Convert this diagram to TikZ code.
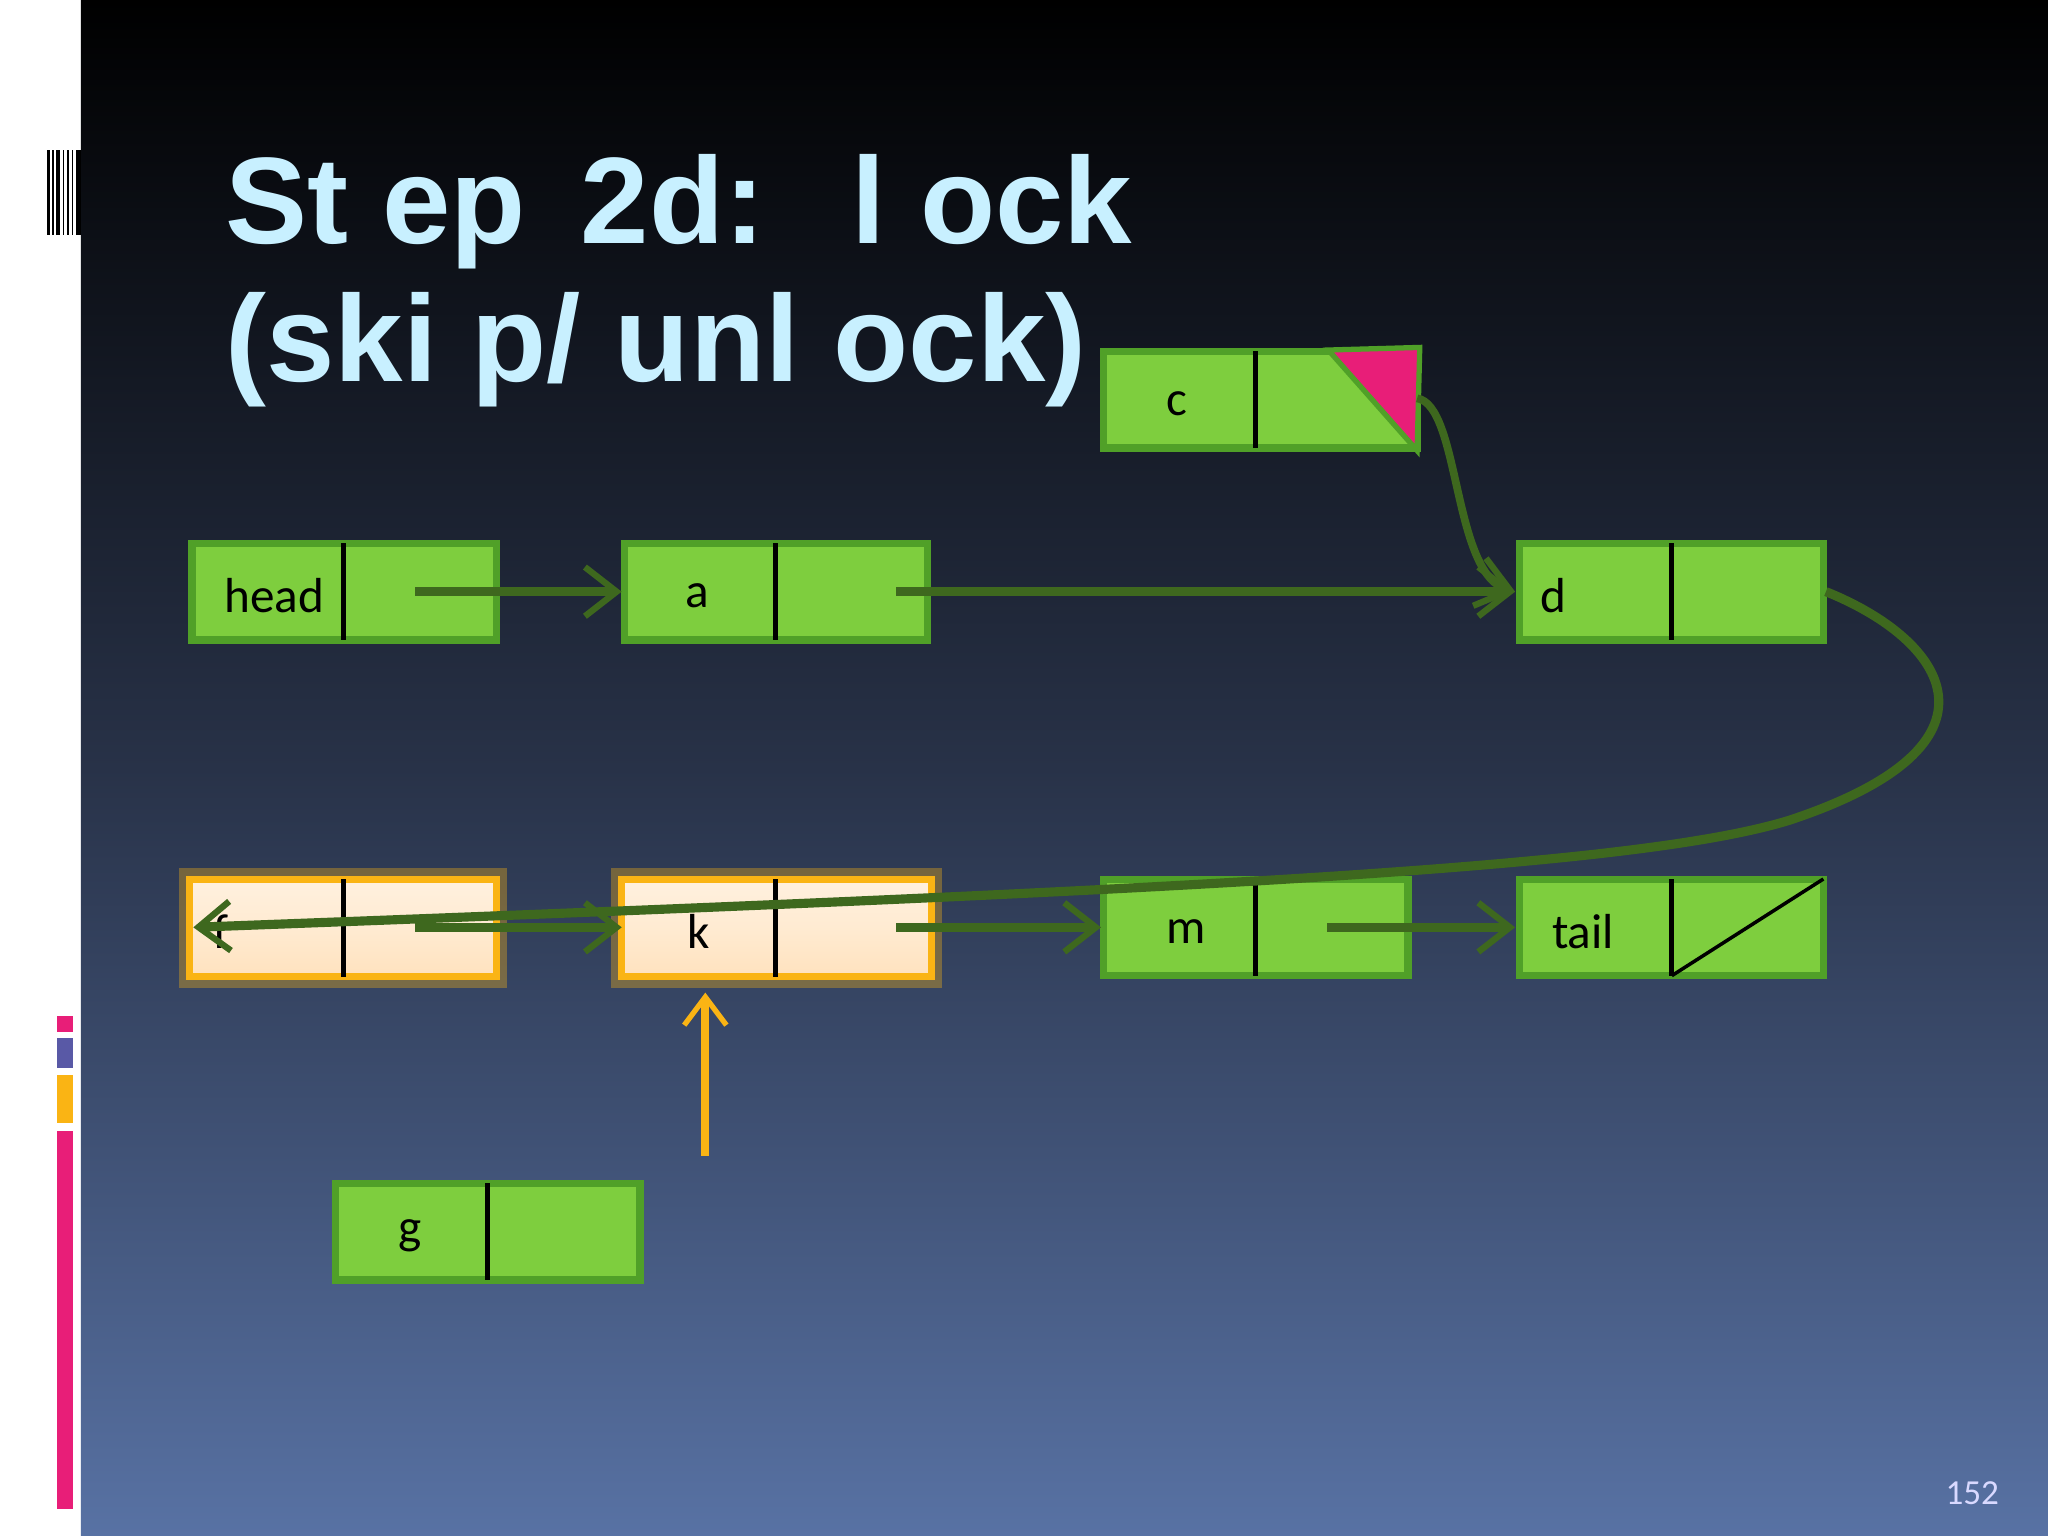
\documentclass[tikz,border=0pt]{standalone}
\usepackage{fontspec}
\setmainfont{Carlito}
\newfontfamily\titlefont{Liberation Sans}
\usetikzlibrary{arrows.meta}
\definecolor{bgbot}{RGB}{88,114,164}
\definecolor{bgmid}{RGB}{40,50,72}
\definecolor{nodegreen}{RGB}{126,206,62}
\definecolor{edgegreen}{RGB}{80,160,40}
\definecolor{linkgreen}{RGB}{62,104,30}
\definecolor{titlecol}{RGB}{200,240,255}
\definecolor{pinkc}{RGB}{232,30,120}
\definecolor{orangec}{RGB}{250,180,20}
\definecolor{peach}{RGB}{255,226,190}
\tikzset{
  cell/.style={draw=edgegreen, line width=2pt, fill=nodegreen},
  hicell/.style={draw=orangec, line width=2pt, top color=peach!50, bottom color=peach, middle color=peach!70},
  glow/.style={draw=orangec, line width=6pt, opacity=0.35},
  lbl/.style={font=\fontsize{14}{16}\selectfont, text=black},
  link/.style={draw=linkgreen, line width=2.6pt, -{Straight Barb[length=9pt,width=14pt,line width=1.8pt]}},
}
\begin{document}
\begin{tikzpicture}[x=0.01306cm,y=-0.01306cm]
\useasboundingbox (0,0) rectangle (1568,1176);
\fill[white] (0,0) rectangle (62,1176);
\shade[top color=black, bottom color=bgbot, middle color=bgmid, shading angle=0] (62,0) rectangle (1568,1176);
% left decoration
\foreach \x/\w in {36/2,40/1,43/3,48/1,51/2,55/1,58/4}{\fill[black] (\x,115) rectangle (\x+\w,180);}
\fill[pinkc] (44,778) rectangle (56,790);
\fill[gray!70!blue] (44,795) rectangle (56,818);
\fill[orangec] (44,823) rectangle (56,860);
\fill[pinkc] (44,866) rectangle (56,1155);
% title
\node[anchor=north west, text=titlecol, font=\titlefont\fontsize{35}{39}\selectfont\bfseries, align=left, inner sep=0] (title) at (172,118) {St ep\, 2d:\,\, l ock\\(ski p/ unl ock)};
% nodes
\newcommand{\cellbox}[8]{% name x1 x2 y1 y2 div label labelx
  \draw[cell] (#2,#4) rectangle (#3,#5);
  \draw[black, line width=1.5pt] (#6,#4) -- (#6,#5);
  \node[lbl] (#1) at (#8,{(#4+#5)/2+3}) {#7};}
\cellbox{head}{147}{380}{416}{490}{263}{head}{210}
\cellbox{a}{478}{710}{416}{490}{594}{a}{534}
\cellbox{d}{1163}{1396}{416}{490}{1280}{d}{1189}
\cellbox{c}{845}{1085}{269}{343}{961}{c}{901}
\cellbox{m}{845}{1078}{673}{747}{961}{m}{908}
\cellbox{tail}{1163}{1396}{673}{747}{1280}{tail}{1212}
\cellbox{g}{257}{490}{906}{980}{373}{g}{314}
\draw[black, line width=1pt] (1280,747) -- (1396,673);
% highlighted
\draw[glow] (145,673) rectangle (380,748);
\draw[hicell] (145,673) rectangle (380,748);
\draw[black, line width=1.5pt] (263,673) -- (263,748);
\node[lbl] (f) at (169,713) {f};
\draw[glow] (476,673) rectangle (713,748);
\draw[hicell] (476,673) rectangle (713,748);
\draw[black, line width=1.5pt] (594,673) -- (594,748);
\node[lbl] (k) at (535,713) {k};
\coordinate (fw) at (148,710); \coordinate (kw) at (476,710); \coordinate (mw) at (843,710);
% pink triangle
\fill[pinkc, draw=edgegreen, line width=1.5pt] (1017,268) -- (1087,266) -- (1085,345) -- cycle;
% links
\coordinate (hs) at (318,453); \coordinate (aw) at (476,453);
\coordinate (as) at (686,453); \coordinate (dw) at (1160,453);
\draw[link] (hs) -- (aw);
\draw[link] (as) -- (dw);
\coordinate (cs) at (1085,305);
\draw[link, line width=2.2pt] (cs) .. controls (1118,310) and (1112,440) .. (dw);
\coordinate (fs) at (318,710); \coordinate (ks) at (686,710); \coordinate (ms) at (1016,710); \coordinate (tw) at (1160,710);
\draw[link] (fs) -- (kw);
\draw[link] (ks) -- (mw);
\draw[link] (ms) -- (tw);
\coordinate (ds) at (1398,453);
\draw[link] (ds) .. controls (1490,490) and (1545,570) .. (1370,628) .. controls (1250,665) and (900,682) .. (fw);
% orange pointer
\coordinate (gp) at (540,885); \coordinate (kb) at (540,760);
\draw[orangec, line width=2.2pt, -{Straight Barb[length=8pt,width=12pt,line width=1.5pt]}] (gp) -- (kb);
\node[text=white!85!blue, font=\fontsize{10}{12}\selectfont] (pg) at (1510,1143) {152};
\end{tikzpicture}
\end{document}
